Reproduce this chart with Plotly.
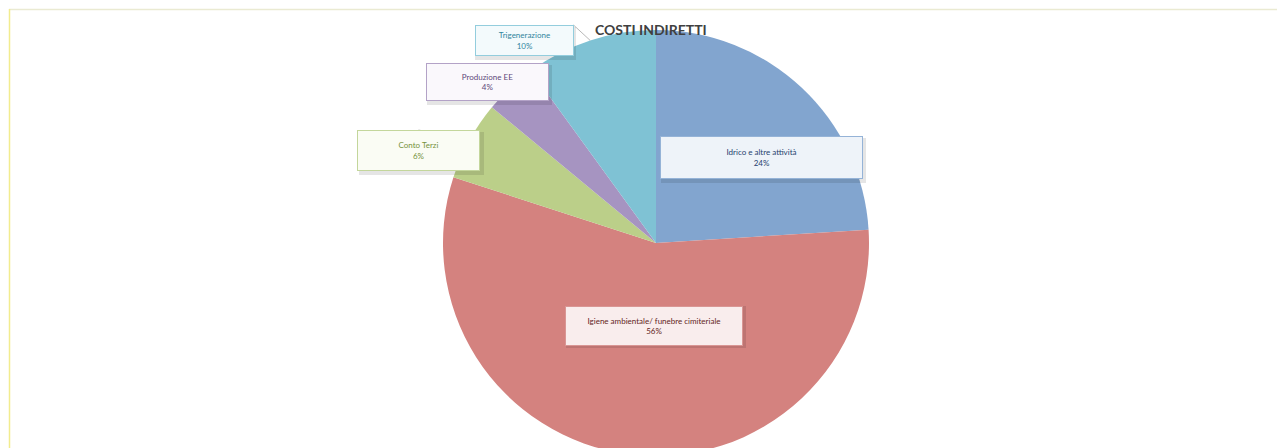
import math
import plotly.graph_objects as go

# ---- data ----
categories = ["Idrico e altre attività", "Igiene ambientale/ funebre cimiteriale",
              "Conto Terzi", "Produzione EE", "Trigenerazione"]
values = [24, 56, 6, 4, 10]
title_text = "COSTI INDIRETTI"

slice_colors = ["#82A5CF", "#D4827F", "#BBCF89", "#A694C1", "#7FC2D4"]
text_colors = ["#1F3F6E", "#632523", "#76923C", "#5F497A", "#31859C"]
box_fill = ["#EEF3F9", "#F9EDED", "#FAFCF4", "#FAF8FC", "#F3FAFC"]
box_border = ["#95B3D7", "#D99694", "#C3D69B", "#B3A2C7", "#93CDDD"]

OFF = 8                      # page body margin
W, H = 1285 - OFF, 462
CX, CY, R = 656, 243, 213    # pie centre / radius in window pixels

def px(x):
    return (x - OFF) / W

def py(y):
    return 1 - (y - OFF) / H

fig = go.Figure()
fig.add_trace(go.Pie(
    labels=categories, values=values, sort=False, direction="clockwise", rotation=0,
    marker=dict(colors=slice_colors, line=dict(width=0)),
    textinfo="none", hoverinfo="label+percent", showlegend=False,
    domain=dict(x=[px(CX - R), px(CX + R)], y=[py(CY + R), py(CY - R)]),
))

# label boxes: centre (px), size (px), whether outside with a leader line
box_geom = [
    (762, 136, 203, 43, False),
    (654, 346, 178, 40, False),
    (357, 130, 123, 41, True),
    (426, 63, 123, 38, True),
    (524, 25, 99, 31, True),
]

total = sum(values)
cum = 0
shapes = []
annotations = []
for i, (cat, v) in enumerate(zip(categories, values)):
    mid = (cum + v / 2) / total * 2 * math.pi
    cum += v
    pct = f"{round(v / total * 100)}%"
    bx, by, bw, bh, outside = box_geom[i]
    if outside:
        ex = CX + R * math.sin(mid)
        ey = CY - R * math.cos(mid)
        sx = bx + bw / 2
        shapes.append(dict(type="line", xref="paper", yref="paper",
                           x0=px(sx), y0=py(by), x1=px(ex), y1=py(ey),
                           line=dict(color="#A6A6A6", width=0.8)))
    # shadow
    annotations.append(dict(x=px(bx + 1.5), y=py(by + 2), xref="paper", yref="paper",
                            text="", showarrow=False, width=bw, height=bh,
                            bgcolor="rgba(0,0,0,0.10)", borderwidth=0))
    annotations.append(dict(x=px(bx), y=py(by), xref="paper", yref="paper",
                            text=f"{cat}<br>{pct}", showarrow=False,
                            width=bw - 2, height=bh - 2, align="center", valign="middle",
                            bgcolor=box_fill[i], bordercolor=box_border[i], borderwidth=1,
                            borderpad=0,
                            font=dict(family="Lato", size=8, color=text_colors[i])))

annotations.append(dict(x=px(651), y=py(19), xref="paper", yref="paper",
                        text=f"<b>{title_text}</b>", showarrow=False,
                        font=dict(family="Lato", size=14, color="#404040")))

# chart border
shapes.append(dict(type="line", xref="paper", yref="paper", x0=px(9), x1=px(1285),
                   y0=py(9.5), y1=py(9.5), line=dict(color="#EAEAD2", width=1.5)))
shapes.append(dict(type="line", xref="paper", yref="paper", x0=px(9.5), x1=px(9.5),
                   y0=py(9), y1=0, line=dict(color="#F2EC8E", width=1.5)))

fig.update_layout(
    width=W, height=H, margin=dict(l=0, r=0, t=0, b=0),
    paper_bgcolor="white", plot_bgcolor="white",
    shapes=shapes, annotations=annotations,
)
fig.write_html("out.html")
